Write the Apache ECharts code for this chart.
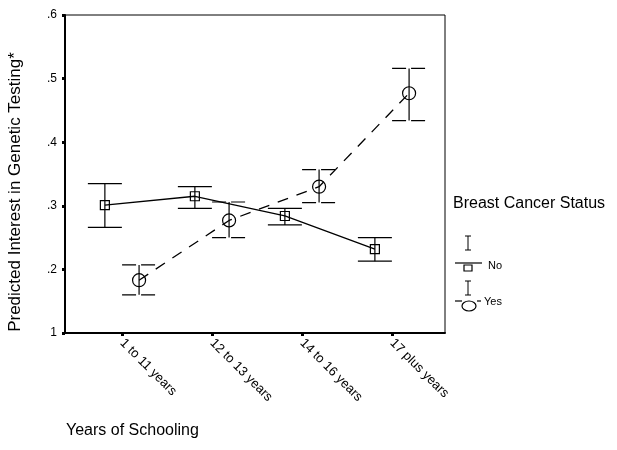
<!DOCTYPE html>
<html>
<head>
<meta charset="utf-8">
<script src="https://cdn.jsdelivr.net/npm/echarts@6/dist/echarts.min.js"></script>
<style>
  html, body { margin: 0; padding: 0; background: #fff; }
  #chart { width: 617px; height: 450px; }
</style>
</head>
<body>
<div id="chart"></div>
<script>
var categories = ['1 to 11 years', '12 to 13 years', '14 to 16 years', '17 plus years'];
var yTickLabels = ['1', '.2', '.3', '.4', '.5', '.6'];

// Breast cancer status: No
var noMean = [0.301, 0.315, 0.284, 0.232];
var noLow = [0.266, 0.296, 0.270, 0.213];
var noHigh = [0.335, 0.330, 0.296, 0.250];

// Breast cancer status: Yes
var yesMean = [0.183, 0.277, 0.330, 0.477];
var yesLow = [0.160, 0.250, 0.305, 0.434];
var yesHigh = [0.207, 0.306, 0.357, 0.516];

var dodge = 0.19;
var font = 'Liberation Sans, Arial, sans-serif';

function pts(vals, off) {
  return vals.map(function (v, i) { return [i + 1 + off, v]; });
}
function bars(low, high, off) {
  return low.map(function (v, i) { return [i + 1 + off, v, high[i]]; });
}
function errRender(dash) {
  return function (params, api) {
    var lo = api.coord([api.value(0), api.value(1)]);
    var hi = api.coord([api.value(0), api.value(2)]);
    var w = 17;
    var st = { stroke: '#000', lineWidth: 1.2 };
    var capSt = { stroke: '#000', lineWidth: 1.2, lineDash: dash };
    return {
      type: 'group',
      children: [
        { type: 'line', shape: { x1: lo[0], y1: lo[1], x2: hi[0], y2: hi[1] }, style: st },
        { type: 'line', shape: { x1: hi[0] - w, y1: hi[1], x2: hi[0] + w, y2: hi[1] }, style: capSt },
        { type: 'line', shape: { x1: lo[0] - w, y1: lo[1], x2: lo[0] + w, y2: lo[1] }, style: capSt }
      ]
    };
  };
}

var chart = echarts.init(document.getElementById('chart'));
chart.setOption({
  animation: false,
  backgroundColor: '#fff',
  grid: { left: 65, right: 172, top: 15, bottom: 117, show: true, borderColor: '#000', borderWidth: 1 },
  xAxis: {
    type: 'value',
    min: 0.367,
    max: 4.589,
    splitLine: { show: false },
    axisLine: { show: true, lineStyle: { color: '#000', width: 2 } },
    axisTick: { show: true, customValues: [1, 2, 3, 4], length: 3, lineStyle: { color: '#000', width: 3 } },
    axisLabel: {
      customValues: [1, 2, 3, 4],
      rotate: -45,
      color: '#000',
      fontFamily: font,
      fontSize: 13,
      margin: 8,
      formatter: function (v) { return categories[Math.round(v) - 1]; }
    }
  },
  yAxis: {
    type: 'value',
    min: 0.1,
    max: 0.6,
    interval: 0.1,
    splitLine: { show: false },
    axisLine: { show: true, lineStyle: { color: '#000', width: 2 } },
    axisTick: { show: true, length: 3, lineStyle: { color: '#000', width: 3 } },
    axisLabel: {
      color: '#000',
      fontFamily: font,
      fontSize: 12,
      margin: 8,
      formatter: function (v) { return yTickLabels[Math.round(v * 10) - 1]; }
    }
  },
  series: [
    {
      name: 'No',
      type: 'line',
      data: pts(noMean, -dodge),
      symbol: 'rect',
      symbolSize: 9,
      itemStyle: { color: 'rgba(0,0,0,0)', borderColor: '#000', borderWidth: 1.2 },
      lineStyle: { color: '#000', width: 1.3 },
      z: 3
    },
    {
      name: 'Yes',
      type: 'line',
      data: pts(yesMean, dodge),
      symbol: 'circle',
      symbolSize: 13,
      itemStyle: { color: 'rgba(0,0,0,0)', borderColor: '#000', borderWidth: 1.2 },
      lineStyle: { color: '#000', width: 1.3, type: [11, 9] },
      z: 3
    },
    {
      type: 'custom',
      data: bars(noLow, noHigh, -dodge),
      renderItem: errRender(null),
      encode: { x: 0, y: [1, 2] },
      z: 2
    },
    {
      type: 'custom',
      data: bars(yesLow, yesHigh, dodge),
      renderItem: errRender([14, 5]),
      encode: { x: 0, y: [1, 2] },
      z: 2
    }
  ],
  graphic: [
    {
      type: 'text', x: 15, y: 192, rotation: Math.PI / 2,
      style: { text: 'Predicted Interest in Genetic Testing*', fill: '#000', font: '17px ' + font, align: 'center', verticalAlign: 'middle' }
    },
    { type: 'text', left: 66, top: 423, style: { text: 'Years of Schooling', fill: '#000', font: '16px ' + font } },
    { type: 'text', left: 453, top: 196, style: { text: 'Breast Cancer Status', fill: '#000', font: '16px ' + font } },
    // legend: No
    { type: 'line', shape: { x1: 468, y1: 236, x2: 468, y2: 250 }, style: { stroke: '#000', lineWidth: 1 } },
    { type: 'line', shape: { x1: 465, y1: 236, x2: 471, y2: 236 }, style: { stroke: '#000', lineWidth: 1 } },
    { type: 'line', shape: { x1: 465, y1: 250, x2: 471, y2: 250 }, style: { stroke: '#000', lineWidth: 1 } },
    { type: 'line', shape: { x1: 455, y1: 263, x2: 482, y2: 263 }, style: { stroke: '#000', lineWidth: 1.2 } },
    { type: 'rect', shape: { x: 464, y: 265, width: 8, height: 6 }, style: { fill: 'none', stroke: '#000', lineWidth: 1.2 } },
    { type: 'text', left: 488, top: 260, style: { text: 'No', fill: '#000', font: '11px ' + font } },
    // legend: Yes
    { type: 'line', shape: { x1: 468, y1: 281, x2: 468, y2: 295 }, style: { stroke: '#000', lineWidth: 1 } },
    { type: 'line', shape: { x1: 465, y1: 281, x2: 471, y2: 281 }, style: { stroke: '#000', lineWidth: 1 } },
    { type: 'line', shape: { x1: 465, y1: 295, x2: 471, y2: 295 }, style: { stroke: '#000', lineWidth: 1 } },
    { type: 'line', shape: { x1: 455, y1: 301, x2: 462, y2: 301 }, style: { stroke: '#000', lineWidth: 1.2 } },
    { type: 'line', shape: { x1: 477, y1: 301, x2: 481, y2: 301 }, style: { stroke: '#000', lineWidth: 1.2 } },
    { type: 'ellipse', shape: { cx: 469, cy: 306, rx: 7, ry: 5 }, style: { fill: 'none', stroke: '#000', lineWidth: 1.2 } },
    { type: 'text', left: 484, top: 296, style: { text: 'Yes', fill: '#000', font: '11px ' + font } }
  ]
});
</script>
</body>
</html>
